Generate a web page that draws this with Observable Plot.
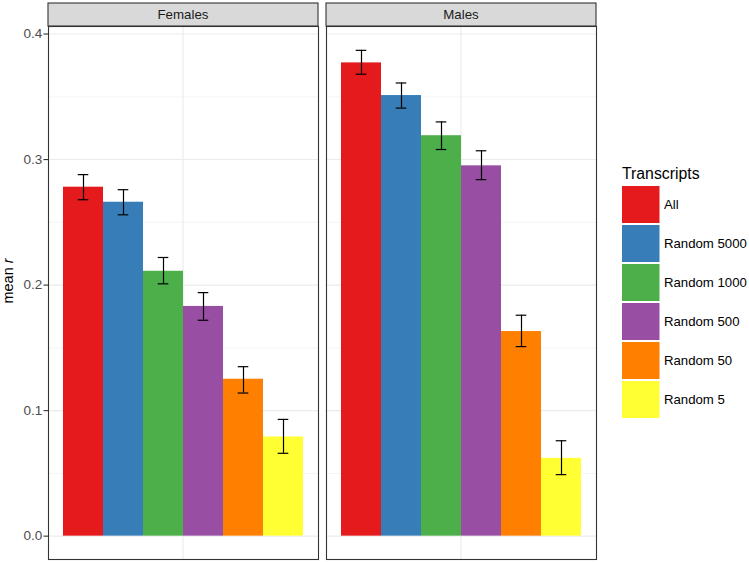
<!DOCTYPE html>
<html>
<head>
<meta charset="utf-8">
<script src="https://cdn.jsdelivr.net/npm/d3@7"></script>
<script src="https://cdn.jsdelivr.net/npm/@observablehq/plot@0.6"></script>
<style>
  html, body { margin: 0; padding: 0; background: #fff; }
  #chart svg { display: block; }
</style>
</head>
<body>
<div id="chart"></div>
<script>
// ---- data ----
const sexes = ["Females", "Males"];
const transcripts = ["All", "Random 5000", "Random 1000", "Random 500", "Random 50", "Random 5"];
const femalesMean = [0.278, 0.266, 0.211, 0.183, 0.125, 0.079];
const femalesLo   = [0.268, 0.256, 0.201, 0.172, 0.114, 0.066];
const femalesHi   = [0.288, 0.276, 0.222, 0.194, 0.135, 0.093];
const malesMean   = [0.377, 0.351, 0.319, 0.295, 0.163, 0.062];
const malesLo     = [0.368, 0.341, 0.308, 0.284, 0.151, 0.049];
const malesHi     = [0.387, 0.361, 0.330, 0.307, 0.176, 0.076];
const majorTicks = [0.0, 0.1, 0.2, 0.3, 0.4];
const minorTicks = [0.05, 0.15, 0.25, 0.35];
const palette = ["#E41A1C", "#377EB8", "#4DAF4A", "#984EA3", "#FF7F00", "#FFFF33"];

const rows = [];
transcripts.forEach((t, i) => {
  rows.push({sex: "Females", transcript: t, mean: femalesMean[i], lo: femalesLo[i], hi: femalesHi[i]});
});
transcripts.forEach((t, i) => {
  rows.push({sex: "Males", transcript: t, mean: malesMean[i], lo: malesLo[i], hi: malesHi[i]});
});

const W = 749, H = 562;
const mL = 48, mR = 152, mT = 26, mB = 3;
const gap = 8;
const plotW = W - mL - mR;
const padInner = (2 * gap) / (plotW + gap);
const capInset = 14.7;
const font = "'Liberation Sans', Arial, Helvetica, sans-serif";

const plot = Plot.plot({
  width: W,
  height: H,
  marginLeft: mL,
  marginRight: mR,
  marginTop: mT,
  marginBottom: mB,
  style: {fontFamily: font, background: "#fff", overflow: "visible"},
  fx: {domain: sexes, paddingInner: padInner, paddingOuter: 0, axis: null, label: null},
  x: {domain: transcripts, paddingInner: 0, paddingOuter: 0.3125, axis: null, label: null},
  y: {domain: [-0.0186, 0.406], axis: null, label: null},
  color: {domain: transcripts, range: palette},
  marks: [
    Plot.ruleY(minorTicks, {stroke: "#ebebeb", strokeWidth: 0.55}),
    Plot.ruleY(majorTicks, {stroke: "#ebebeb", strokeWidth: 1.1}),
    Plot.barY(rows, {fx: "sex", x: "transcript", y1: 0, y2: "mean", fill: "transcript"}),
    Plot.ruleX(rows, {fx: "sex", x: "transcript", y1: "lo", y2: "hi", stroke: "#000", strokeWidth: 1.2}),
    Plot.tickY(rows, {fx: "sex", x: "transcript", y: "lo", stroke: "#000", strokeWidth: 1.2, insetLeft: capInset, insetRight: capInset}),
    Plot.tickY(rows, {fx: "sex", x: "transcript", y: "hi", stroke: "#000", strokeWidth: 1.2, insetLeft: capInset, insetRight: capInset}),
    Plot.frame({stroke: "#333", strokeWidth: 1.1}),
    Plot.axisY({ticks: majorTicks, tickFormat: d3.format(".1f"), tickSize: 4.5, tickPadding: 1.8,
                fontSize: 13.5, fill: "#4d4d4d", stroke: "#333", strokeWidth: 1.1, label: null})
  ]
});

document.getElementById("chart").appendChild(plot);

// ---- decorations: strips, vertical grid, axis title, legend ----
const svg = d3.select(plot);
const fx = plot.scale("fx");
const bw = fx.bandwidth;
const facetX = s => (fx.apply ? fx.apply(s) : mL + sexes.indexOf(s) * (bw + gap));

// vertical gridline at panel centre (under the bars)
let barEl = plot.querySelector('[aria-label="bar"]');
while (barEl && barEl.parentNode !== plot) barEl = barEl.parentNode;
const ns = "http://www.w3.org/2000/svg";
sexes.forEach(s => {
  const ln = document.createElementNS(ns, "line");
  const cx = facetX(s) + bw / 2;
  ln.setAttribute("x1", cx); ln.setAttribute("x2", cx);
  ln.setAttribute("y1", mT); ln.setAttribute("y2", H - mB);
  ln.setAttribute("stroke", "#ebebeb"); ln.setAttribute("stroke-width", 1.1);
  plot.insertBefore(ln, barEl);
});

// strips
const stripTop = 3;
const strips = svg.append("g");
sexes.forEach(s => {
  const x0 = facetX(s);
  strips.append("rect")
    .attr("x", x0).attr("y", stripTop)
    .attr("width", bw).attr("height", mT - stripTop)
    .attr("fill", "#d9d9d9").attr("stroke", "#333").attr("stroke-width", 1.1);
  strips.append("text")
    .attr("x", x0 + bw / 2).attr("y", 19.3)
    .attr("text-anchor", "middle")
    .attr("font-family", font).attr("font-size", 13.3)
    .attr("fill", "#1a1a1a")
    .text(s);
});

// y axis title
const yt = svg.append("text")
  .attr("transform", `translate(13, ${(stripTop + H - mB) / 2}) rotate(-90)`)
  .attr("text-anchor", "middle")
  .attr("font-family", font).attr("font-size", 14.5)
  .attr("fill", "#000");
yt.append("tspan").text("mean ");
yt.append("tspan").attr("font-style", "italic").text("r");

// legend
const color = plot.scale("color");
const lg = svg.append("g").attr("text-anchor", "start");
const lgX = 622, lgY = 186, key = 37.5, pitch = 39;
lg.append("text")
  .attr("x", lgX).attr("y", 179)
  .attr("text-anchor", "start")
  .attr("font-family", font).attr("font-size", 15.8)
  .attr("fill", "#000")
  .text("Transcripts");
transcripts.forEach((t, i) => {
  const y0 = lgY + i * pitch;
  lg.append("rect")
    .attr("x", lgX).attr("y", y0)
    .attr("width", key).attr("height", key - 0.5)
    .attr("fill", color.apply(t));
  lg.append("text")
    .attr("x", 664).attr("y", y0 + key / 2)
    .attr("dy", "0.35em")
    .attr("text-anchor", "start")
    .attr("font-family", font).attr("font-size", 13.2)
    .attr("fill", "#000")
    .text(t);
});
</script>
</body>
</html>
